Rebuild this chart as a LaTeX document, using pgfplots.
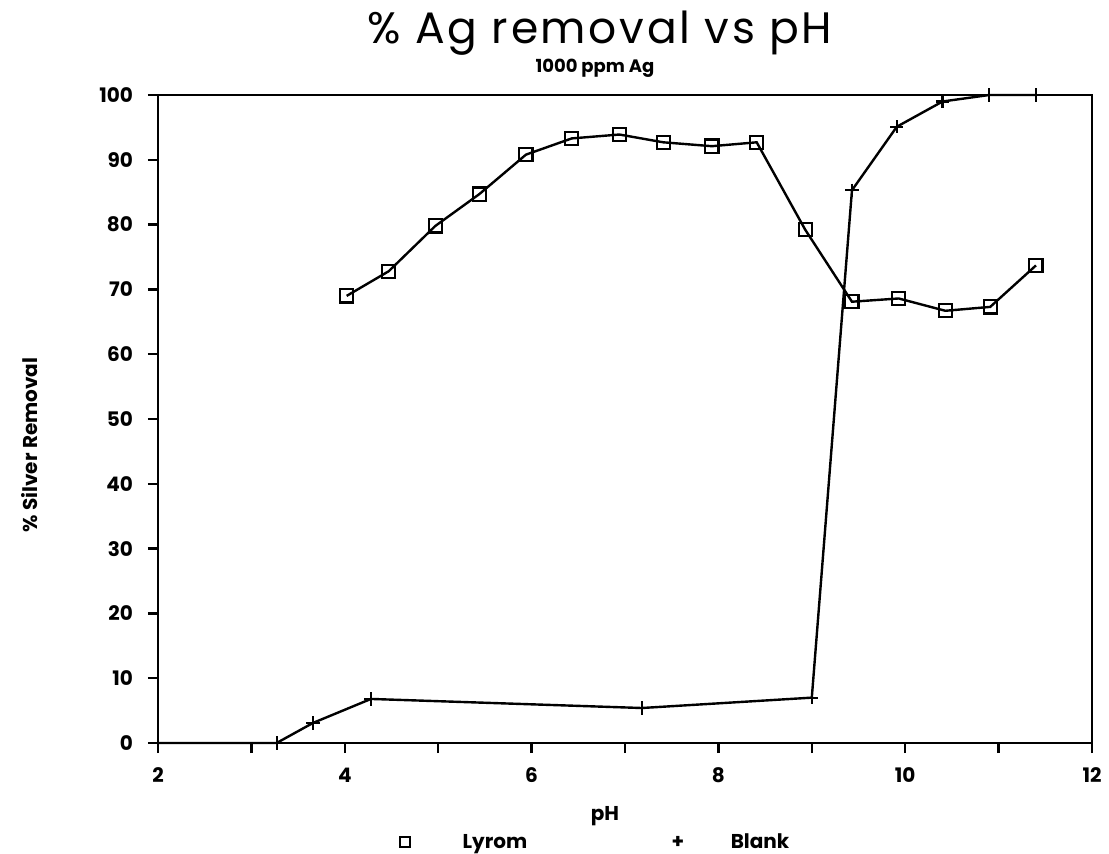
\documentclass[border=0pt]{standalone}
\usepackage{fontspec}
\setmainfont{Poppins}
\newfontfamily\titlefont[LetterSpace=6]{Poppins}
\usepackage{pgfplots}
\pgfplotsset{compat=1.18}
\begin{document}
\begin{tikzpicture}[x=1pt,y=1pt]
\begin{axis}[
  at={(79pt,55pt)}, anchor=south west,
  width=467pt, height=324pt, scale only axis,
  xmin=2, xmax=12, ymin=0, ymax=100,
  xtick={2,4,...,12}, minor xtick={3,5,...,11},
  ytick={0,10,...,100},
  xtick pos=bottom, ytick pos=left,
  tick align=outside,
  major tick length=5pt, minor tick length=5pt,
  every tick/.style={black, line width=1.2pt},
  axis line style={line width=1.4pt},
  /pgf/number format/assume math mode=true,
  tick label style={font=\bfseries\fontsize{10}{12}\selectfont},
  xticklabel style={yshift=-4pt},
  yticklabel style={xshift=-4pt},
  clip=false,
]
\addplot[black, line width=1.2pt, mark=square, mark size=3.3pt, mark options={solid, line width=1.1pt}] coordinates {
(4.02,69.0) (4.47,72.8) (4.97,79.8) (5.44,84.7) (5.94,90.8) (6.43,93.3) (6.94,93.9) (7.41,92.7) (7.93,92.1) (8.41,92.7) (8.93,79.2) (9.43,68.1) (9.93,68.6) (10.43,66.7) (10.91,67.3) (11.40,73.7)
};
\addplot[black, line width=1.2pt, mark=+, mark size=3.3pt, mark options={solid, line width=1.1pt}] coordinates {
(2,0) (3.27,0) (3.66,3.1) (4.28,6.8) (7.18,5.4) (9.0,7.0) (9.43,85.3) (9.91,95.1) (10.40,99.0) (10.90,100) (11.40,100)
};
\end{axis}
\node[font=\titlefont\fontsize{22}{26}\selectfont] at (300pt,410pt) {\% Ag removal vs pH};
\node[font=\bfseries\fontsize{9}{11}\selectfont] at (297.5pt,392.5pt) {1000 ppm Ag};
\node[font=\bfseries\fontsize{10}{12}\selectfont, rotate=90] at (15pt,204pt) {\% Silver Removal};
\node[font=\bfseries\fontsize{10}{12}\selectfont] at (302.5pt,18.5pt) {pH};
\node[draw, line width=1pt, minimum size=5pt, inner sep=0pt] at (202.5pt,5.5pt) {};
\node[font=\bfseries\fontsize{10}{12}\selectfont, anchor=base] at (247.5pt,2.5pt) {Lyrom};
\node[font=\bfseries\fontsize{10}{12}\selectfont] at (339pt,5.5pt) {+};
\node[font=\bfseries\fontsize{10}{12}\selectfont, anchor=base] at (380pt,2.5pt) {Blank};
\pgfresetboundingbox
\useasboundingbox (0,0) rectangle (554.5pt,426.5pt);
\end{tikzpicture}
\end{document}
